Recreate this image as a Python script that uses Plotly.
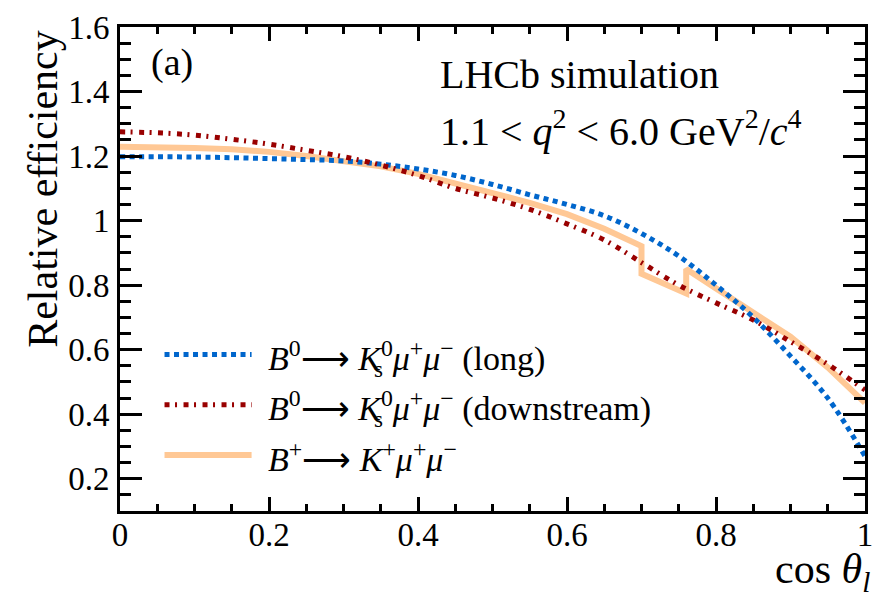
import plotly.graph_objects as go

# ---- data ----
x_long = [0.0, 0.05, 0.1, 0.15, 0.2, 0.25, 0.3, 0.35, 0.4, 0.45, 0.5, 0.55, 0.6, 0.65, 0.7, 0.75, 0.8, 0.85, 0.9, 0.95, 1.0]
y_long = [1.198, 1.198, 1.197, 1.195, 1.192, 1.189, 1.185, 1.175, 1.16, 1.14, 1.112, 1.08, 1.05, 1.015, 0.96, 0.89, 0.80, 0.70, 0.58, 0.45, 0.27]

x_down = [0.0, 0.05, 0.1, 0.15, 0.2, 0.25, 0.3, 0.35, 0.4, 0.45, 0.5, 0.55, 0.6, 0.65, 0.7, 0.75, 0.8, 0.85, 0.9, 0.95, 1.0]
y_down = [1.275, 1.272, 1.265, 1.252, 1.237, 1.218, 1.198, 1.172, 1.14, 1.10, 1.07, 1.035, 0.99, 0.94, 0.87, 0.80, 0.745, 0.692, 0.625, 0.555, 0.475]

x_kplus = [0.0, 0.05, 0.1, 0.15, 0.2, 0.25, 0.3, 0.35, 0.4, 0.45, 0.5, 0.55, 0.6, 0.65, 0.7, 0.7, 0.76, 0.76, 0.8, 0.85, 0.9, 0.95, 1.0]
y_kplus = [1.229, 1.228, 1.225, 1.221, 1.213, 1.200, 1.185, 1.168, 1.145, 1.116, 1.085, 1.055, 1.02, 0.975, 0.921, 0.835, 0.774, 0.85, 0.79, 0.713, 0.64, 0.545, 0.435]

xtick_vals = [0, 0.2, 0.4, 0.6, 0.8, 1.0]
xtick_text = ["0", "0.2", "0.4", "0.6", "0.8", "1"]
ytick_vals = [0.2, 0.4, 0.6, 0.8, 1.0, 1.2, 1.4, 1.6]
ytick_text = ["0.2", "0.4", "0.6", "0.8", "1", "1.2", "1.4", "1.6"]

labels = [
    "<i>B</i><sup>0</sup>⟶ <i>K</i><sup>0</sup><i>μ</i><sup>+</sup><i>μ</i><sup>−</sup> (long)",
    "<i>B</i><sup>0</sup>⟶ <i>K</i><sup>0</sup><i>μ</i><sup>+</sup><i>μ</i><sup>−</sup> (downstream)",
    "<i>B</i><sup>+</sup>⟶ <i>K</i><sup>+</sup><i>μ</i><sup>+</sup><i>μ</i><sup>−</sup>",
]

BLUE = "#0066CC"
RED = "#990000"
ORANGE = "#FFC895"
FONT = "'Liberation Serif', 'Times New Roman', Times, serif"

W, H = 883, 598
L, R, T, B = 120, 10, 19, 87
PW, PH = W - L - R, H - T - B


def px(xp):
    return (xp - L) / PW


def py(yp):
    return (H - B - yp) / PH


fig = go.Figure()
fig.add_trace(go.Scatter(x=x_kplus, y=y_kplus, mode="lines",
                         line=dict(color=ORANGE, width=6), showlegend=False))
fig.add_trace(go.Scatter(x=x_long, y=y_long, mode="lines", line_shape="spline",
                         line=dict(color=BLUE, width=5, dash="5px,4.5px"), showlegend=False))
fig.add_trace(go.Scatter(x=x_down, y=y_down, mode="lines", line_shape="spline",
                         line=dict(color=RED, width=5, dash="5px,5.5px,2px,6.5px"), showlegend=False))

axis_common = dict(showgrid=False, zeroline=False, showline=True, linecolor="black",
                   linewidth=3, ticks="inside", tickcolor="black", tickwidth=3,
                   mirror="allticks",
                   tickfont=dict(family=FONT, size=33, color="black"))

fig.update_xaxes(range=[0, 1], tickvals=xtick_vals, ticktext=xtick_text, ticklen=14,
                 ticklabelstandoff=-8,
                 minor=dict(dtick=0.05, ticklen=7, tickwidth=3, tickcolor="black", ticks="inside"),
                 **axis_common)
fig.update_yaxes(range=[0.1, 1.6], tickvals=ytick_vals, ticktext=ytick_text, ticklen=22,
                 ticklabelstandoff=1,
                 minor=dict(dtick=0.05, ticklen=11, tickwidth=3, tickcolor="black", ticks="inside"),
                 **axis_common)

# legend drawn manually (long sample lines)
leg_y = [352, 403, 454]
leg_styles = [dict(color=BLUE, width=5, dash="5px,4.5px"),
              dict(color=RED, width=5, dash="5px,5.5px,2px,6.5px"),
              dict(color=ORANGE, width=6)]
annotations = []
for yy, st, lab in zip(leg_y, leg_styles, labels):
    fig.add_shape(type="line", xref="paper", yref="paper",
                  x0=px(165), x1=px(253), y0=py(yy), y1=py(yy), line=st)
    annotations.append(dict(text=lab, xref="paper", yref="paper", x=px(268), y=py(yy + 2),
                            xanchor="left", yanchor="middle", showarrow=False,
                            font=dict(family=FONT, size=34, color="black")))
# stacked subscript "s" under K^0
for yy in leg_y[:2]:
    annotations.append(dict(text="s", xref="paper", yref="paper", x=px(375), y=py(yy + 15),
                            xanchor="left", yanchor="middle", showarrow=False,
                            font=dict(family=FONT, size=23, color="black")))

annotations += [
    dict(text="(a)", xref="paper", yref="paper", x=px(149), y=py(55), xanchor="left",
         yanchor="middle", showarrow=False, font=dict(family=FONT, size=38, color="black")),
    dict(text="LHCb simulation", xref="paper", yref="paper", x=px(441), y=py(67),
         xanchor="left", yanchor="middle", showarrow=False,
         font=dict(family=FONT, size=40, color="black")),
    dict(text="1.1 < <i>q</i><sup>2</sup> < 6.0 GeV<sup>2</sup>/<i>c</i><sup>4</sup>",
         xref="paper", yref="paper", x=px(441), y=py(122), xanchor="left", yanchor="middle",
         showarrow=False, font=dict(family=FONT, size=40, color="black")),
    dict(text="Relative efficiency", xref="paper", yref="paper", x=px(42), y=py(20),
         xanchor="center", yanchor="top", textangle=-90, showarrow=False,
         font=dict(family=FONT, size=42, color="black")),
    dict(text="cos <i>θ</i><sub><i>l</i></sub>", xref="paper", yref="paper", x=px(880),
         y=py(573), xanchor="right", yanchor="middle", showarrow=False,
         font=dict(family=FONT, size=42, color="black")),
]

fig.update_layout(width=W, height=H, margin=dict(l=L, r=R, t=T, b=B),
                  paper_bgcolor="white", plot_bgcolor="white",
                  annotations=annotations, showlegend=False)

fig.write_html("out.html")
